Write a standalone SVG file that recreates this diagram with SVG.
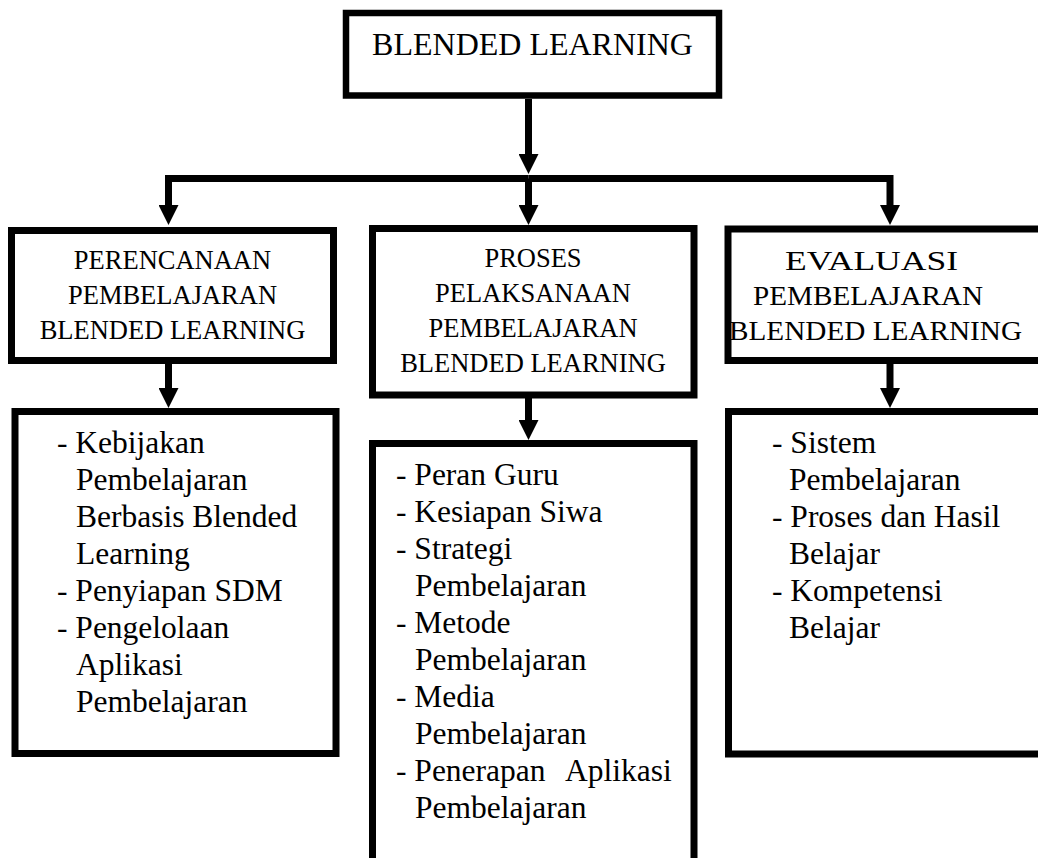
<svg xmlns="http://www.w3.org/2000/svg" width="1038" height="858" viewBox="0 0 1038 858">
<style>
.box{fill:#fff;stroke:#000;stroke-width:7}
text{font-family:'Liberation Serif',Tinos,'Nimbus Roman','Times New Roman',Times,'DejaVu Serif',serif;fill:#000}
.hd{font-size:26.5px;text-anchor:middle}
.ti{font-size:32px;text-anchor:middle}
.li{font-size:31.5px}
.con{fill:none;stroke:#000;stroke-width:7;stroke-linejoin:miter}
</style>
<defs>
<marker id="ah" markerUnits="userSpaceOnUse" viewBox="0 0 20 20" refX="0" refY="10" markerWidth="20" markerHeight="20" orient="auto">
<path d="M0,0 L20,10 L0,20 z" fill="#000"/>
</marker>
</defs>
<rect width="1038" height="858" fill="#fff"/>
<g id="connectors">
<path class="con" d="M528.5,99 V154" marker-end="url(#ah)"/>
<path class="con" d="M528.5,178.5 H168.5 V205" marker-end="url(#ah)"/>
<path class="con" d="M528.5,178.5 H890 V205" marker-end="url(#ah)"/>
<path class="con" d="M528.5,178.5 V205" marker-end="url(#ah)"/>
<path class="con" d="M168.5,364 V388" marker-end="url(#ah)"/>
<path class="con" d="M528.5,398 V420" marker-end="url(#ah)"/>
<path class="con" d="M890,364 V388" marker-end="url(#ah)"/>
</g>
<g id="node-blended">
<rect class="box" x="346" y="13" width="373" height="82.5" style="stroke-width:6.5"/>
<text class="ti" x="532.5" y="55" font-family="Liberation Serif, serif">BLENDED LEARNING</text>
</g>
<g id="node-perencanaan">
<rect class="box" x="11.5" y="230.5" width="322" height="130"/>
<text class="hd" x="172.5" y="269">PERENCANAAN</text>
<text class="hd" x="172.5" y="304">PEMBELAJARAN</text>
<text class="hd" x="172.5" y="339">BLENDED LEARNING</text>
</g>
<g id="node-proses">
<rect class="box" x="372.5" y="228.5" width="321.5" height="166.5"/>
<text class="hd" x="533" y="267">PROSES</text>
<text class="hd" x="533" y="302">PELAKSANAAN</text>
<text class="hd" x="533" y="337">PEMBELAJARAN</text>
<text class="hd" x="533" y="372">BLENDED LEARNING</text>
</g>
<g id="node-evaluasi">
<rect class="box" x="728" y="229" width="330" height="131.5"/>
<text class="hd" x="871.5" y="270" textLength="173" lengthAdjust="spacingAndGlyphs">EVALUASI</text>
<text class="hd" x="868" y="305" textLength="230" lengthAdjust="spacingAndGlyphs">PEMBELAJARAN</text>
<text class="hd" x="875.5" y="340" textLength="293" lengthAdjust="spacingAndGlyphs">BLENDED LEARNING</text>
</g>
<g id="node-perencanaan-items">
<rect class="box" x="15" y="411.5" width="321" height="342"/>
<text class="li" x="57" y="453">- Kebijakan</text>
<text class="li" x="76" y="490">Pembelajaran</text>
<text class="li" x="76" y="527">Berbasis Blended</text>
<text class="li" x="76" y="564">Learning</text>
<text class="li" x="57" y="601">- Penyiapan SDM</text>
<text class="li" x="57" y="638">- Pengelolaan</text>
<text class="li" x="76" y="675">Aplikasi</text>
<text class="li" x="76" y="712">Pembelajaran</text>
</g>
<g id="node-proses-items">
<rect class="box" x="372.5" y="443.5" width="321.5" height="418"/>
<text class="li" x="396" y="485">- Peran Guru</text>
<text class="li" x="396" y="522">- Kesiapan Siwa</text>
<text class="li" x="396" y="559">- Strategi</text>
<text class="li" x="415" y="596">Pembelajaran</text>
<text class="li" x="396" y="633">- Metode</text>
<text class="li" x="415" y="670">Pembelajaran</text>
<text class="li" x="396" y="707">- Media</text>
<text class="li" x="415" y="744">Pembelajaran</text>
<text class="li" x="396" y="781">- Penerapan <tspan x="565">Aplikasi</tspan></text>
<text class="li" x="415" y="818">Pembelajaran</text>
</g>
<g id="node-evaluasi-items">
<rect class="box" x="728.5" y="411.5" width="330" height="342.5"/>
<text class="li" x="772" y="453">- Sistem</text>
<text class="li" x="789" y="490">Pembelajaran</text>
<text class="li" x="772" y="527">- Proses dan Hasil</text>
<text class="li" x="789" y="564">Belajar</text>
<text class="li" x="772" y="601">- Kompetensi</text>
<text class="li" x="789" y="638">Belajar</text>
</g>
</svg>
